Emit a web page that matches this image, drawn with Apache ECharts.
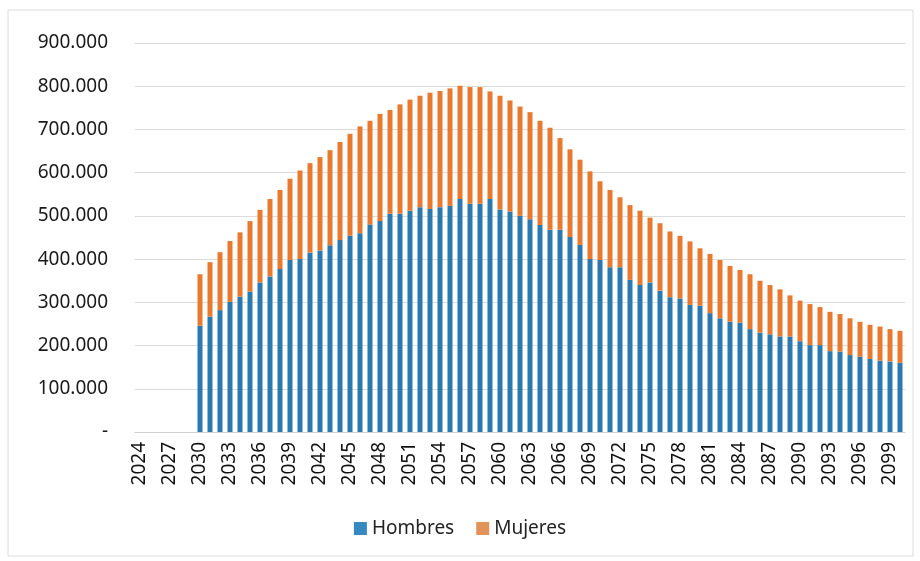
<!DOCTYPE html>
<html>
<head>
<meta charset="utf-8">
<script src="https://cdn.jsdelivr.net/npm/echarts@6/dist/echarts.min.js"></script>
<style>html,body{margin:0;padding:0;background:#fff;}#c{width:920px;height:561px;}</style>
</head>
<body>
<div id="c"></div>
<script>
var years = [];
for (var y = 2024; y <= 2100; y++) years.push(String(y));

var hombres = [null,null,null,null,null,null,
246000,267000,282000,301000,313000,325000,346000,360000,377000,398000,
400000,415000,420000,432000,444000,454000,460000,480000,488000,505000,
505000,512000,520000,516000,520000,523000,539000,528000,528000,539000,
515000,510000,500000,492000,479000,468000,468000,451000,433000,400000,
398000,381000,381000,352000,340000,346000,327000,312000,309000,294000,
292000,275000,263000,255000,253000,238000,230000,226000,221000,221000,
210000,201000,201000,187000,186000,178000,174000,169000,165000,163000,
160000];

var mujeres = [null,null,null,null,null,null,
119000,126000,134000,141000,149000,163000,168000,179000,183000,188000,
205000,207000,216000,220000,227000,236000,247000,240000,248000,240000,
253000,257000,258000,269000,269000,272000,262000,270000,270000,249000,
263000,257000,253000,248000,241000,236000,212000,203000,197000,203000,
182000,179000,162000,173000,172000,150000,156000,152000,145000,147000,
133000,137000,135000,129000,122000,127000,120000,114000,109000,95000,
94000,95000,88000,91000,87000,85000,81000,79000,79000,75000,
74000];

var chart = echarts.init(document.getElementById('c'));
chart.setOption({
  animation: false,
  backgroundColor: '#fff',
  graphic: [{
    type: 'rect', shape: {x: 8, y: 10, width: 905, height: 546},
    style: {fill: 'none', stroke: '#dcdcdc', lineWidth: 1}
  }],
  grid: {left: 135, right: 15, top: 43, bottom: 129},
  legend: {
    bottom: 18, left: 'center', itemWidth: 13, itemHeight: 13, itemGap: 22,
    icon: 'rect',
    textStyle: {fontFamily: 'Noto Sans', fontSize: 19, color: '#222'},
    data: [
      {name: 'Hombres', itemStyle: {color: '#3589c0'}},
      {name: 'Mujeres', itemStyle: {color: '#e3935a'}}
    ]
  },
  xAxis: {
    type: 'category', data: years,
    axisTick: {show: false},
    axisLine: {lineStyle: {color: '#d0d0d0'}},
    axisLabel: {interval: 2, rotate: 90, fontFamily: 'Noto Sans', fontSize: 19, color: '#111', margin: 10}
  },
  yAxis: {
    type: 'value', min: 0, max: 900000, interval: 100000,
    axisLine: {show: false}, axisTick: {show: false},
    splitLine: {lineStyle: {color: '#dcdcdc'}},
    axisLabel: {
      fontFamily: 'Noto Sans', fontSize: 19, color: '#1a1a1a', margin: 27,
      formatter: function (v) { return v === 0 ? '-' : (v / 1000) + '.000'; }
    }
  },
  series: [
    {name: 'Hombres', type: 'bar', stack: 't', data: hombres, barWidth: 5,
     itemStyle: {color: '#2a79b0'}},
    {name: 'Mujeres', type: 'bar', stack: 't', data: mujeres, barWidth: 5,
     itemStyle: {color: '#e9792e'}}
  ]
});
</script>
</body>
</html>
